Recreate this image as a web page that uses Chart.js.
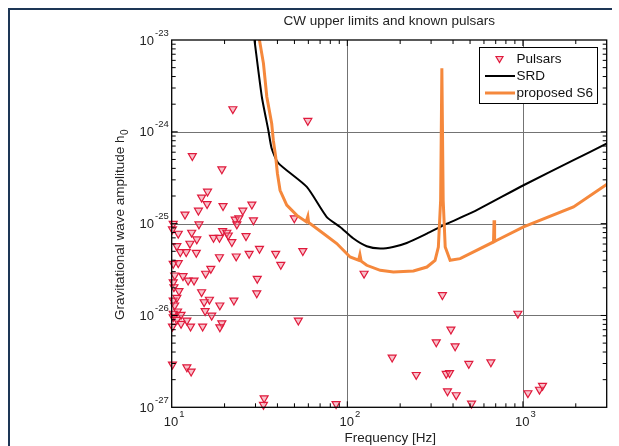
<!DOCTYPE html>
<html>
<head>
<meta charset="utf-8">
<script src="https://cdn.jsdelivr.net/npm/chart.js@4"></script>
<style>
  html, body { margin: 0; padding: 0; background: #fff; overflow: hidden; }
  #chart { display: block; }
</style>
</head>
<body>
<canvas id="chart" width="619" height="446"></canvas>
<script>
// Known pulsars (frequency Hz, upper limit h0)
var pulsarFreq = [22.3, 59.6, 13.1, 19.3, 16.0, 14.8, 15.9, 14.2, 11.9, 19.6, 25.4, 28.6, 23.0, 24.1, 29.2, 49.9,
  10.2, 14.3, 23.5, 10.1, 10.9, 13.0, 19.5, 20.6, 21.0, 17.3, 18.7, 26.5, 13.9, 12.7, 22.0, 10.7,
  11.2, 12.1, 13.8, 31.6, 55.8, 39.1, 27.6, 23.3, 18.7, 41.8, 10.2, 10.9, 16.7, 15.6, 10.4, 11.6,
  12.4, 13.4, 10.2, 30.7, 10.3, 11.0, 14.8, 30.5, 22.6, 16.4, 15.3, 10.2, 10.7, 10.4, 18.8, 15.5,
  10.8, 10.2, 16.9, 11.3, 10.2, 10.7, 12.2, 19.3, 52.6, 11.3, 12.8, 15.0, 10.1, 18.8, 10.1, 12.2,
  12.9, 33.6, 33.3, 86.3, 124.6, 348, 936, 389, 321, 411, 180, 492, 657, 247, 366, 382,
  372, 417, 510, 1068, 1243, 1293];
var pulsarAmp = [1.77e-24, 1.32e-24, 5.47e-25, 3.92e-25, 2.24e-25, 1.93e-25, 1.64e-25, 1.39e-25, 1.26e-25, 1.56e-25, 1.39e-25, 1.62e-25, 1.11e-25, 1.15e-25, 1.09e-25, 1.15e-25,
  1.0e-25, 9.85e-26, 9.85e-26, 8.69e-26, 7.8e-26, 8.0e-26, 8.32e-26, 8.0e-26, 7.47e-26, 7.05e-26, 7.05e-26, 7.34e-26, 6.76e-26, 6.07e-26, 6.32e-26, 5.71e-26,
  4.91e-26, 4.91e-26, 4.84e-26, 5.35e-26, 5.04e-26, 4.72e-26, 4.72e-26, 4.41e-26, 4.33e-26, 3.58e-26, 3.67e-26, 3.73e-26, 3.24e-26, 2.86e-26, 2.74e-26, 2.69e-26,
  2.41e-26, 2.41e-26, 2.31e-26, 2.52e-26, 2.04e-26, 1.85e-26, 1.80e-26, 1.75e-26, 1.46e-26, 1.49e-26, 1.40e-26, 1.46e-26, 1.56e-26, 1.29e-26, 1.29e-26, 1.12e-26,
  1.11e-26, 1.05e-26, 1.0e-26, 1.02e-26, 9.61e-27, 9.0e-27, 8.84e-27, 8.26e-27, 8.84e-27, 8.14e-27, 7.6e-27, 7.6e-27, 7.6e-27, 7.47e-27, 2.93e-27, 2.74e-27,
  2.46e-27, 1.26e-27, 1.07e-27, 1.09e-27, 2.86e-26, 1.67e-26, 1.05e-26, 7.05e-27, 5.13e-27, 4.64e-27, 3.49e-27, 2.98e-27, 3.1e-27, 2.26e-27, 2.32e-27, 2.37e-27,
  1.5e-27, 1.36e-27, 1.10e-27, 1.43e-27, 1.56e-27, 1.72e-27];

// SRD sensitivity curve
var srdFreq = [29.6, 32.6, 35.5, 37.1, 40.5, 58.8, 76.4, 91.0, 107.9, 129, 154, 182, 218, 284, 369, 521, 1008, 1941, 3010];
var srdAmp = [1e-23, 2.41e-24, 1.04e-24, 6.59e-25, 4.56e-25, 2.51e-25, 1.18e-25, 9.2e-26, 6.93e-26, 5.67e-26, 5.35e-26, 5.57e-26, 6.16e-26, 7.8e-26, 1.0e-25, 1.34e-25, 2.62e-25, 4.91e-25, 7.47e-25];

// proposed S6 curve
var s6Freq = [31.6, 33.3, 34.8, 37.1, 37.9, 39.1, 40.0, 41.4, 45.2, 51.6, 58.3, 59.6, 60.2, 73.1, 87.1, 103.7, 116, 118, 120, 129, 154, 183, 238, 284,
  316, 330, 340, 345.5, 351.5, 361, 385, 439, 680, 685, 690, 711, 1008, 1941, 3010];
var s6Amp = [1e-23, 5.57e-24, 2.41e-24, 1.23e-24, 8.12e-25, 5.34e-25, 3.52e-25, 2.31e-25, 1.59e-25, 1.23e-25, 1.05e-25, 1.2e-25, 1.03e-25, 7.8e-26, 6.07e-26, 4.33e-26, 4.0e-26, 4.6e-26, 3.9e-26, 3.52e-26, 3.1e-26, 2.97e-26, 3.05e-26, 3.37e-26,
  3.99e-26, 5.57e-26, 1.8e-25, 4.91e-24, 1.8e-25, 5.57e-26, 3.99e-26, 4.16e-26, 6.32e-26, 1.09e-25, 6.4e-26, 6.59e-26, 9.2e-26, 1.52e-25, 2.69e-25];

var xPowers = [1, 2, 3];
var yPowers = [-27, -26, -25, -24, -23];

function pairs(xs, ys) {
  return xs.map(function (x, i) { return { x: x, y: ys[i] }; });
}

var FONT = '"Liberation Sans", Arial, sans-serif';
var RED = '#e01a3c';
var ORANGE = '#f5883c';

function drawPow(ctx, x, y, p, mode) {
  var base = '10', sup = String(p);
  ctx.font = '13px ' + FONT;
  var wb = ctx.measureText(base).width;
  ctx.font = '9.5px ' + FONT;
  var ws = ctx.measureText(sup).width;
  var left;
  if (mode == 'y') { left = x - ws - wb - 1; } else { left = x - (wb + ws) / 2; }
  ctx.textAlign = 'left';
  ctx.textBaseline = 'middle';
  ctx.font = '13px ' + FONT;
  ctx.fillText(base, left, y);
  ctx.font = '9.5px ' + FONT;
  ctx.fillText(sup, left + wb + 1, y - 8);
}

var decor = {
  id: 'decor',
  beforeDraw: function (chart) {
    // page frame (left and top edge only)
    var ctx = chart.ctx;
    ctx.save();
    ctx.fillStyle = '#1d3656';
    ctx.fillRect(8, 8, 2, 438);
    ctx.fillRect(8, 8, 604, 2);
    ctx.restore();
  },
  beforeDatasetsDraw: function (chart) {
    var ctx = chart.ctx, a = chart.chartArea;
    var xs = chart.scales.x, ys = chart.scales.y;
    ctx.save();
    ctx.strokeStyle = '#737373';
    ctx.lineWidth = 1;
    xPowers.forEach(function (p) {
      var px = Math.round(xs.getPixelForValue(Math.pow(10, p))) + 0.5;
      if (px > a.left + 1 && px < a.right - 1) {
        ctx.beginPath(); ctx.moveTo(px, a.top); ctx.lineTo(px, a.bottom); ctx.stroke();
      }
    });
    yPowers.forEach(function (p) {
      var py = Math.round(ys.getPixelForValue(Math.pow(10, p))) + 0.5;
      if (py > a.top + 1 && py < a.bottom - 1) {
        ctx.beginPath(); ctx.moveTo(a.left, py); ctx.lineTo(a.right, py); ctx.stroke();
      }
    });
    ctx.restore();
  },
  afterDatasetsDraw: function (chart) {
    var ctx = chart.ctx, a = chart.chartArea;
    var xs = chart.scales.x, ys = chart.scales.y;
    ctx.save();
    // box
    ctx.strokeStyle = '#000';
    ctx.lineWidth = 1.3;
    ctx.strokeRect(a.left, a.top, a.right - a.left, a.bottom - a.top);
    // minor ticks on all four sides
    ctx.lineWidth = 1;
    for (var p = 1; p <= 3; p++) {
      for (var m = 1; m <= 9; m++) {
        var v = m * Math.pow(10, p);
        if (v <= 10 || v >= 3000) continue;
        var px = xs.getPixelForValue(v);
        var len = m == 1 ? 6 : 4;
        ctx.beginPath();
        ctx.moveTo(px, a.bottom); ctx.lineTo(px, a.bottom - len);
        ctx.moveTo(px, a.top); ctx.lineTo(px, a.top + len);
        ctx.stroke();
      }
    }
    for (var q = -27; q < -23; q++) {
      for (var n = 1; n <= 9; n++) {
        var w = n * Math.pow(10, q);
        if (n == 1 && q == -27) continue;
        var py = ys.getPixelForValue(w);
        var l2 = n == 1 ? 6 : 4;
        ctx.beginPath();
        ctx.moveTo(a.left, py); ctx.lineTo(a.left + l2, py);
        ctx.moveTo(a.right, py); ctx.lineTo(a.right - l2, py);
        ctx.stroke();
      }
    }
    // tick labels
    ctx.fillStyle = '#222';
    yPowers.forEach(function (p) {
      drawPow(ctx, a.left - 3, ys.getPixelForValue(Math.pow(10, p)) + 1, p, 'y');
    });
    xPowers.forEach(function (p) {
      drawPow(ctx, xs.getPixelForValue(Math.pow(10, p)) + 2, a.bottom + 15, p, 'x');
    });
    // title and axis titles
    ctx.font = '13.5px ' + FONT;
    ctx.textAlign = 'center';
    ctx.textBaseline = 'middle';
    ctx.fillText('CW upper limits and known pulsars', (a.left + a.right) / 2, 21);
    ctx.fillText('Frequency [Hz]', (a.left + a.right) / 2 + 1, 438);
    ctx.save();
    ctx.translate(120, 225);
    ctx.rotate(-Math.PI / 2);
    var t = 'Gravitational wave amplitude h';
    var wt = ctx.measureText(t).width;
    ctx.font = '10px ' + FONT;
    var w0 = ctx.measureText('0').width;
    ctx.font = '13.5px ' + FONT;
    ctx.textAlign = 'left';
    ctx.fillText(t, -(wt + w0) / 2, 0);
    ctx.font = '10px ' + FONT;
    ctx.fillText('0', -(wt + w0) / 2 + wt + 0.5, 5);
    ctx.restore();
    // legend
    var lx = 479.5, ly = 47.5, lw = 118, lh = 56;
    ctx.fillStyle = '#fff';
    ctx.fillRect(lx, ly, lw, lh);
    ctx.strokeStyle = '#000';
    ctx.lineWidth = 1;
    ctx.strokeRect(lx, ly, lw, lh);
    var ds = chart.data.datasets;
    var rows = [59, 76, 93];
    ctx.font = '13.5px ' + FONT;
    ctx.textAlign = 'left';
    ctx.textBaseline = 'middle';
    ds.forEach(function (d, i) {
      var ry = rows[i];
      if (d.showLine === false) {
        ctx.beginPath();
        ctx.moveTo(499.5 - 3.5, ry - 2.5); ctx.lineTo(499.5 + 3.5, ry - 2.5); ctx.lineTo(499.5, ry + 3.5);
        ctx.closePath();
        ctx.fillStyle = d.backgroundColor; ctx.fill();
        ctx.strokeStyle = d.borderColor; ctx.lineWidth = 1.2; ctx.stroke();
      } else {
        ctx.beginPath(); ctx.moveTo(485, ry); ctx.lineTo(515, ry);
        ctx.strokeStyle = d.borderColor; ctx.lineWidth = d.borderWidth; ctx.stroke();
      }
      ctx.fillStyle = '#111';
      ctx.fillText(d.label, 516.5, ry);
    });
    ctx.restore();
  }
};

var chart = new Chart(document.getElementById('chart').getContext('2d'), {
  type: 'scatter',
  data: {
    datasets: [
      {
        label: 'Pulsars',
        data: pairs(pulsarFreq, pulsarAmp),
        showLine: false,
        pointStyle: 'triangle',
        rotation: 180,
        pointRadius: 4.6,
        pointBorderWidth: 1.2,
        borderColor: RED,
        backgroundColor: 'rgba(240,120,140,0.45)',
        clip: false,
        order: 3
      },
      {
        label: 'SRD',
        data: pairs(srdFreq, srdAmp),
        showLine: true,
        borderColor: '#000',
        backgroundColor: '#000',
        borderWidth: 2,
        pointRadius: 0,
        tension: 0.2,
        order: 2
      },
      {
        label: 'proposed S6',
        data: pairs(s6Freq, s6Amp),
        showLine: true,
        borderColor: ORANGE,
        backgroundColor: ORANGE,
        borderWidth: 3,
        pointRadius: 0,
        tension: 0,
        order: 1
      }
    ]
  },
  options: {
    responsive: false,
    animation: false,
    devicePixelRatio: 1,
    layout: { padding: { left: 171.7, right: 12.3, top: 40, bottom: 38.7 } },
    plugins: { legend: { display: false }, tooltip: { enabled: false } },
    scales: {
      x: { type: 'logarithmic', min: 10, max: 3000, display: false },
      y: { type: 'logarithmic', min: 1e-27, max: 1e-23, display: false }
    }
  },
  plugins: [decor]
});
</script>
</body>
</html>
